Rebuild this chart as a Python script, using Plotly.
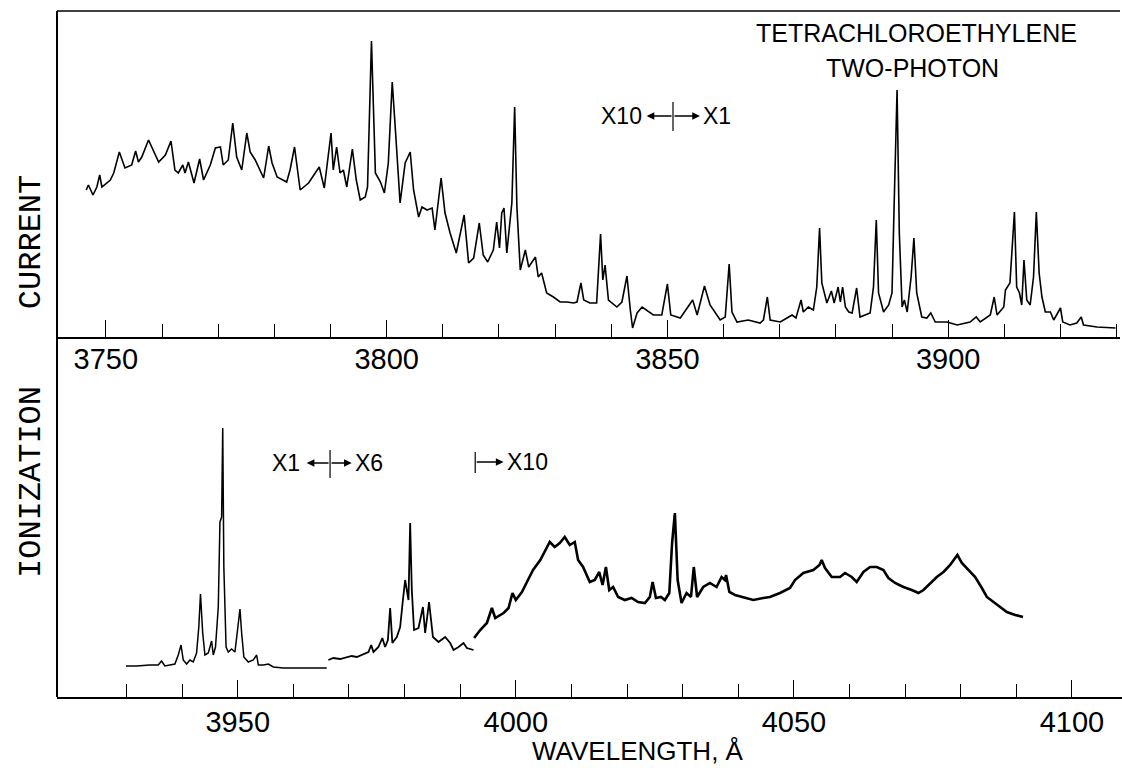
import plotly.graph_objects as go

# ---------------- data (intensity in arbitrary units) -------------
top_wl = [3746.5, 3746.9, 3747.7, 3748.4, 3748.9, 3749.3, 3750.8, 3751.4, 3752.4, 3753.4,
          3754.6, 3755.3, 3755.8, 3756.4, 3757.6, 3758.2, 3759.4, 3760.6, 3761.6, 3762.3,
          3762.9, 3763.7, 3764.1, 3764.7, 3765.7, 3766.7, 3767.4, 3768.6, 3769.5, 3770.4,
          3770.9, 3771.8, 3772.6, 3773.3, 3774.2, 3775.1, 3775.7, 3776.6, 3778.1, 3779.0,
          3779.6, 3780.5, 3782.2, 3782.8, 3783.6, 3784.3, 3784.6, 3786.1, 3787.0, 3788.0,
          3788.9, 3790.1, 3790.5, 3791.1, 3791.7, 3792.3, 3792.9, 3793.9, 3794.6, 3795.3,
          3796.2, 3796.6, 3797.3, 3798.0, 3798.9, 3799.6, 3800.3, 3801.0, 3801.6, 3802.4,
          3803.3, 3804.2, 3804.8, 3805.7, 3806.3, 3807.2, 3808.1, 3808.6, 3809.7, 3810.4,
          3811.3, 3812.4, 3813.8, 3814.6, 3815.5, 3816.5, 3817.2, 3818.0, 3819.0, 3819.6,
          3820.1, 3820.5, 3820.9, 3821.4, 3822.3, 3822.8, 3823.2, 3823.8, 3824.7, 3825.3,
          3826.5, 3827.0, 3827.6, 3828.5, 3829.7, 3830.9, 3832.1, 3833.3, 3833.9, 3834.6,
          3835.1, 3836.2, 3837.4, 3838.1, 3838.5, 3838.9, 3839.5, 3841.0, 3841.9, 3842.8,
          3843.4, 3843.8, 3844.6, 3845.5, 3847.5, 3849.0, 3850.0, 3850.6, 3852.3, 3853.5,
          3854.5, 3855.3, 3856.6, 3857.6, 3859.4, 3860.3, 3861.0, 3861.5, 3862.4, 3864.4,
          3866.5, 3867.1, 3867.8, 3868.3, 3870.1, 3871.3, 3872.2, 3872.9, 3873.8, 3874.2,
          3875.1, 3876.0, 3876.6, 3877.1, 3877.5, 3878.4, 3879.2, 3879.7, 3880.4, 3880.8,
          3881.2, 3881.7, 3882.3, 3882.9, 3883.7, 3884.3, 3886.1, 3886.7, 3887.2, 3887.6,
          3888.5, 3889.4, 3890.0, 3890.4, 3890.9, 3891.3, 3891.8, 3892.2, 3892.7, 3893.4,
          3893.9, 3894.4, 3895.3, 3896.2, 3896.9, 3897.7, 3899.8, 3901.6, 3903.9, 3905.0,
          3905.7, 3907.5, 3908.2, 3908.7, 3909.9, 3910.2, 3911.0, 3911.8, 3912.2, 3912.7,
          3913.1, 3913.5, 3914.0, 3914.6, 3915.2, 3915.7, 3916.2, 3916.7, 3917.3, 3918.2,
          3918.8, 3920.0, 3920.4, 3921.7, 3922.9, 3923.7, 3924.1, 3926.5, 3929.8]
top_int = [147, 152, 142, 150, 162, 150, 157, 164, 185, 169,
           172, 186, 175, 180, 197, 190, 175, 182, 196, 167,
           164, 172, 164, 175, 154, 178, 157, 172, 189, 190,
           172, 177, 214, 180, 167, 204, 185, 177, 159, 191,
           174, 160, 155, 167, 190, 160, 147, 154, 162, 170,
           149, 204, 167, 190, 164, 167, 150, 188, 157, 137,
           140, 150, 296, 164, 155, 144, 174, 255, 204, 134,
           174, 185, 147, 120, 130, 127, 129, 107, 159, 124,
           104, 84, 122, 74, 79, 114, 82, 75, 87, 115,
           89, 124, 129, 84, 134, 230, 130, 67, 87, 70,
           80, 60, 64, 44, 40, 35, 35, 34, 35, 54,
           37, 34, 34, 103, 57, 72, 37, 30, 35, 61,
           27, 9, 24, 30, 22, 22, 53, 22, 19, 29,
           37, 22, 51, 32, 17, 20, 73, 25, 15, 17,
           14, 17, 40, 17, 15, 19, 22, 19, 37, 25,
           30, 27, 50, 109, 54, 34, 46, 34, 50, 35,
           50, 30, 25, 24, 49, 20, 24, 50, 117, 44,
           25, 32, 44, 137, 247, 104, 30, 37, 25, 60,
           99, 44, 20, 19, 24, 15, 15, 12, 15, 20,
           15, 22, 40, 22, 30, 47, 54, 125, 50, 44,
           32, 77, 37, 32, 60, 125, 64, 40, 25, 25,
           17, 29, 15, 12, 14, 20, 12, 10, 9]

# lower panel: x1 segment, x6 segment, x10 segment
seg1_wl = [3929.9, 3931.8, 3934.2, 3935.7, 3936.3, 3936.9, 3938.7, 3939.3, 3939.8, 3940.2,
           3940.8, 3941.4, 3942.0, 3942.6, 3943.0, 3943.3, 3943.7, 3944.1, 3944.7, 3945.0,
           3945.3, 3945.6, 3946.0, 3946.5, 3946.8, 3947.1, 3947.3, 3947.5, 3947.9, 3948.3,
           3948.9, 3949.5, 3949.9, 3950.4, 3950.7, 3951.1, 3951.9, 3952.8, 3953.4, 3953.7,
           3954.6, 3955.5, 3956.4, 3958.2, 3961.8, 3966.0]
seg1_int = [31, 31, 32, 32, 36, 31, 33, 42, 52, 37,
            33, 37, 35, 44, 70, 103, 64, 42, 44, 49,
            56, 42, 50, 90, 175, 180, 269, 130, 50, 45,
            48, 45, 64, 88, 64, 40, 35, 37, 42, 32,
            32, 33, 30, 29, 29, 29]

seg6_wl = [3966.3, 3967.2, 3968.4, 3969.6, 3970.5, 3971.4, 3972.6, 3973.5, 3974.0, 3974.4,
           3975.3, 3976.0, 3976.5, 3977.0, 3977.4, 3977.8, 3978.6, 3979.2, 3979.7, 3980.1,
           3980.7, 3981.0, 3981.3, 3981.7, 3982.5, 3983.3, 3983.7, 3984.4, 3985.1, 3986.1,
           3987.3, 3988.2, 3988.8, 3989.7, 3990.6, 3991.2, 3992.4]
seg6_int = [37, 39, 38, 40, 41, 40, 43, 45, 52, 45,
            50, 59, 50, 57, 89, 54, 60, 70, 97, 117,
            97, 174, 107, 67, 69, 90, 64, 95, 60, 55,
            60, 54, 47, 50, 54, 49, 47]

seg10_wl = [3992.5, 3993.6, 3994.8, 3995.7, 3996.3, 3997.8, 3998.7, 3999.4, 4000.0, 4001.1,
            4002.0, 4003.1, 4004.4, 4005.2, 4006.1, 4007.0, 4007.9, 4008.8, 4009.7, 4010.6,
            4011.2, 4012.1, 4013.3, 4014.2, 4015.0, 4015.6, 4016.2, 4016.8, 4017.5, 4018.4,
            4019.6, 4020.8, 4022.0, 4023.2, 4024.1, 4024.6, 4025.2, 4026.1, 4026.8, 4027.6,
            4028.1, 4028.6, 4029.1, 4029.8, 4030.7, 4031.5, 4032.0, 4032.6, 4033.7, 4034.9,
            4036.1, 4037.0, 4037.6, 4037.8, 4038.4, 4039.4, 4040.9, 4042.7, 4044.5, 4045.7,
            4047.5, 4049.3, 4050.2, 4051.7, 4053.5, 4054.6, 4055.0, 4055.6, 4056.8, 4058.3,
            4059.2, 4060.4, 4061.3, 4062.5, 4063.7, 4064.9, 4066.1, 4067.0, 4068.2, 4069.7,
            4071.2, 4072.4, 4073.3, 4074.5, 4075.7, 4076.9, 4078.1, 4079.0, 4079.4, 4080.2,
            4081.4, 4082.6, 4083.8, 4084.7, 4085.9, 4087.1, 4088.3, 4089.8, 4091.2]
seg10_int = [59, 67, 74, 89, 79, 84, 89, 104, 97, 105,
             115, 127, 137, 145, 155, 150, 154, 160, 152, 155,
             137, 130, 115, 117, 125, 112, 130, 107, 110, 100,
             97, 99, 95, 94, 100, 115, 99, 100, 97, 104,
             154, 184, 117, 94, 104, 100, 130, 100, 110, 114,
             110, 120, 117, 122, 105, 102, 100, 97, 99, 100,
             104, 109, 117, 124, 127, 132, 137, 129, 120, 120,
             124, 120, 115, 125, 130, 130, 127, 119, 114, 110,
             107, 104, 107, 114, 120, 125, 132, 139, 142, 134,
             127, 120, 109, 100, 95, 90, 85, 82, 80]

top_major = [3750, 3800, 3850, 3900]
top_minor = list(range(3750, 3931, 10))
bot_major = [3950, 4000, 4050, 4100]
bot_minor = list(range(3930, 4101, 10))

title_lines = ["TETRACHLOROETHYLENE", "TWO-PHOTON"]
y_title = "IONIZATION    CURRENT"
x_title = "WAVELENGTH, Å"

# ---------------- figure -------------------------------------------------------------
W, H = 1122, 768
def px(x):
    return x / W
def py(y):
    return 1 - y / H

fig = go.Figure()
fig.add_trace(go.Scatter(x=top_wl, y=top_int, mode="lines", xaxis="x", yaxis="y",
                         line=dict(color="black", width=1.6), showlegend=False))
fig.add_trace(go.Scatter(x=seg1_wl, y=seg1_int, mode="lines", xaxis="x2", yaxis="y2",
                         line=dict(color="black", width=1.5), showlegend=False))
fig.add_trace(go.Scatter(x=seg6_wl, y=seg6_int, mode="lines", xaxis="x2", yaxis="y2",
                         line=dict(color="black", width=1.8), showlegend=False))
fig.add_trace(go.Scatter(x=seg10_wl, y=seg10_int, mode="lines", xaxis="x2", yaxis="y2",
                         line=dict(color="black", width=2.6), showlegend=False))

tickfont = dict(family="Liberation Sans", size=29, color="black")
common_x = dict(showline=True, linecolor="black", linewidth=2, showgrid=False, zeroline=False,
                ticks="inside", ticklen=17, tickwidth=1.3, tickcolor="black",
                tickfont=tickfont)
common_y = dict(showline=False, showgrid=False, zeroline=False, showticklabels=False, ticks="")

fig.update_layout(
    width=W, height=H, margin=dict(l=0, r=0, t=0, b=0),
    paper_bgcolor="white", plot_bgcolor="white",
    xaxis=dict(domain=[px(57), px(1120)], range=[3741.3, 3930.6], anchor="y",
               tickvals=top_major, ticktext=[str(v) for v in top_major],
               minor=dict(tickvals=top_minor, ticks="inside", ticklen=13, tickwidth=1.3,
                          tickcolor="black", showgrid=False),
               ticklabelstandoff=-5, **common_x),
    yaxis=dict(domain=[py(337), py(11)], range=[0, 326], anchor="x", **common_y),
    xaxis2=dict(domain=[px(57), px(1122)], range=[3917.5, 4109.0], anchor="y2",
                tickvals=bot_major, ticktext=[str(v) for v in bot_major],
                minor=dict(tickvals=bot_minor, ticks="inside", ticklen=13, tickwidth=1.3,
                           tickcolor="black", showgrid=False),
                ticklabelstandoff=-2, **common_x),
    yaxis2=dict(domain=[py(697), py(372)], range=[0, 325], anchor="x2", **common_y),
)

# frame lines: left vertical line and top border
fig.add_shape(type="line", xref="paper", yref="paper", x0=px(57), x1=px(57), y0=py(697), y1=py(11),
              line=dict(color="black", width=2))
fig.add_shape(type="line", xref="paper", yref="paper", x0=px(57), x1=px(1120), y0=py(11), y1=py(11),
              line=dict(color="black", width=1.5))

# scale-change markers (data coordinates)
def marker(xref, yref, xline, y0, y1, yc, left=None, right=None, ltext=None, rtext=None, tl=None, tr=None):
    fig.add_shape(type="line", xref=xref, yref=yref, x0=xline, x1=xline, y0=y0, y1=y1,
                  line=dict(color="black", width=1.2))
    for head in (left, right):
        if head is not None:
            fig.add_annotation(xref=xref, yref=yref, axref=xref, ayref=yref,
                               x=head, y=yc, ax=xline, ay=yc, text="", showarrow=True,
                               arrowhead=2, arrowsize=1.1, arrowwidth=1.4, arrowcolor="black")
    f = dict(family="Liberation Sans", size=23, color="black")
    if ltext:
        fig.add_annotation(xref=xref, yref=yref, x=tl, y=yc, text=ltext, showarrow=False,
                           xanchor="right", yanchor="middle", font=f)
    if rtext:
        fig.add_annotation(xref=xref, yref=yref, x=tr, y=yc, text=rtext, showarrow=False,
                           xanchor="left", yanchor="middle", font=f)

marker("x", "y", 3851.0, 206, 235, 221, left=3846.3, right=3855.8,
       ltext="X10", rtext="X1", tl=3845.9, tr=3856.0)
marker("x2", "y2", 3966.6, 219, 247, 234, left=3962.4, right=3970.5,
       ltext="X1", rtext="X6", tl=3961.6, tr=3970.8)
marker("x2", "y2", 3992.7, 224, 245, 235, right=3997.8, rtext="X10", tr=3998.0)

# title
tfont = dict(family="Liberation Sans", size=25, color="black")
fig.add_annotation(xref="paper", yref="paper", x=px(916), y=py(33), text=title_lines[0],
                   showarrow=False, xanchor="center", yanchor="middle", font=tfont)
fig.add_annotation(xref="paper", yref="paper", x=px(912), y=py(68), text=title_lines[1],
                   showarrow=False, xanchor="center", yanchor="middle", font=tfont)

# axis titles
fig.add_annotation(xref="paper", yref="paper", x=px(31), y=py(377), text=y_title, textangle=-90,
                   showarrow=False, xanchor="center", yanchor="middle",
                   font=dict(family="Liberation Mono", size=32, color="black"))
fig.add_annotation(xref="paper", yref="paper", x=px(638), y=py(767), text=x_title,
                   showarrow=False, xanchor="center", yanchor="bottom", borderpad=0,
                   font=dict(family="Liberation Sans", size=26, color="black"))

# the page's default body margin would shift the fixed-size figure by 8 px
fig.write_html("out.html", config={"displayModeBar": False},
               post_script="document.body.style.margin='0';")
